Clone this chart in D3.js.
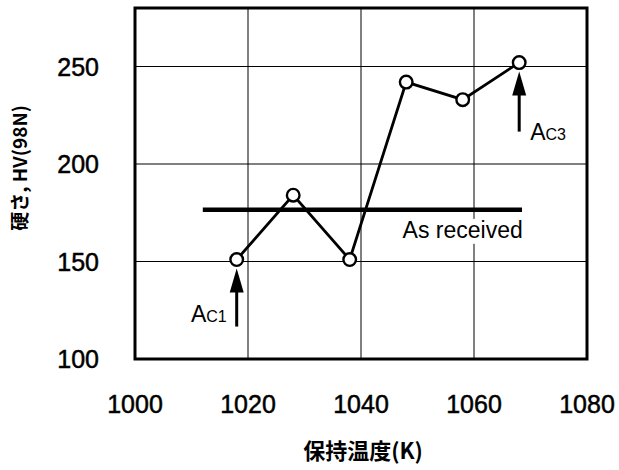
<!DOCTYPE html>
<html>
<head>
<meta charset="utf-8">
<script src="https://cdn.jsdelivr.net/npm/d3@7"></script>
<style>
  body { margin: 0; background: #fff; }
  svg { display: block; }
  text { font-family: "Liberation Sans", Arial, sans-serif; fill: #000; }
</style>
</head>
<body>
<svg id="chart" width="619" height="470"></svg>
<script>
// data
const temps = [1018, 1028, 1038, 1048, 1058, 1068];
const hardness = [151, 184, 151, 242, 233, 252];
const asReceived = { value: 176.5, from: 1012, to: 1068.5 };
const xTicks = [1000, 1020, 1040, 1060, 1080];
const yTicks = [100, 150, 200, 250];
const arrows = [
    { name: 'A', sub: 'C1', t: 1018, h: 151, len: 58, side: 'left', dy: -5 },
    { name: 'A', sub: 'C3', t: 1068, h: 252, len: 60, side: 'right', dy: 8 },
];

const svg = d3.select('#chart');
const margin = { left: 135, right: 32, top: 8, bottom: 111 };
const width = 619 - margin.left - margin.right;
const height = 470 - margin.top - margin.bottom;

const x = d3.scaleLinear().domain([1000, 1080]).range([0, width]);
const y = d3.scaleLinear().domain([100, 280]).range([height, 0]);

const g = svg.append('g').attr('transform', `translate(${margin.left},${margin.top})`);

// grid
g.selectAll('.vgrid')
    .data(xTicks.slice(1, -1))
    .enter().append('line')
    .attr('x1', d => x(d)).attr('x2', d => x(d))
    .attr('y1', 0).attr('y2', height)
    .attr('stroke', '#000').attr('stroke-width', 1);

g.selectAll('.hgrid')
    .data(yTicks.slice(1))
    .enter().append('line')
    .attr('x1', 0).attr('x2', width)
    .attr('y1', d => y(d)).attr('y2', d => y(d))
    .attr('stroke', '#000').attr('stroke-width', 1);

// as received line + label (label has white box, hiding grid under it)
g.append('line')
    .attr('x1', x(asReceived.from)).attr('x2', x(asReceived.to))
    .attr('y1', y(asReceived.value)).attr('y2', y(asReceived.value))
    .attr('stroke', '#000').attr('stroke-width', 4.5);

const lblX = x(1058), lblY = y(asReceived.value) + 28;
g.append('rect')
    .attr('x', lblX - 60).attr('y', lblY - 19)
    .attr('width', 120).attr('height', 25)
    .attr('fill', '#fff');
g.append('text')
    .attr('x', lblX).attr('y', lblY)
    .attr('text-anchor', 'middle')
    .attr('font-size', 23)
    .text('As received');

// series
const line = d3.line().x((d, i) => x(temps[i])).y(d => y(d));
g.append('path')
    .datum(hardness)
    .attr('d', line)
    .attr('fill', 'none')
    .attr('stroke', '#000')
    .attr('stroke-width', 2.8);

g.selectAll('.pt')
    .data(hardness)
    .enter().append('circle')
    .attr('cx', (d, i) => x(temps[i]))
    .attr('cy', d => y(d))
    .attr('r', 6.3)
    .attr('fill', '#fff')
    .attr('stroke', '#000')
    .attr('stroke-width', 2.4);

// arrows for Ac1 / Ac3
arrows.forEach(a => {
    const ax = x(a.t);
    const tip = y(a.h) + 9;
    const bottom = tip + a.len;
    g.append('line')
        .attr('x1', ax).attr('x2', ax)
        .attr('y1', tip + 20).attr('y2', bottom)
        .attr('stroke', '#000').attr('stroke-width', 3);
    g.append('path')
        .attr('d', `M${ax},${tip} L${ax - 7},${tip + 24} L${ax + 7},${tip + 24} Z`)
        .attr('fill', '#000');

    const t = g.append('text')
        .attr('y', bottom + a.dy)
        .attr('font-size', 23);
    if (a.side === 'left') {
        t.attr('x', ax - 10).attr('text-anchor', 'end');
    } else {
        t.attr('x', ax + 11).attr('text-anchor', 'start');
    }
    t.append('tspan').text(a.name);
    t.append('tspan').attr('font-size', 16).text(a.sub);
});

// frame
g.append('rect')
    .attr('width', width).attr('height', height)
    .attr('fill', 'none')
    .attr('stroke', '#000')
    .attr('stroke-width', 3);

// tick labels
g.selectAll('.xl')
    .data(xTicks)
    .enter().append('text')
    .attr('x', d => x(d))
    .attr('y', height + 54)
    .attr('text-anchor', 'middle')
    .attr('font-size', 25)
    .attr('stroke', '#000').attr('stroke-width', 0.5)
    .text(d => d);

g.selectAll('.yl')
    .data(yTicks)
    .enter().append('text')
    .attr('x', -36)
    .attr('y', d => y(d))
    .attr('dy', '0.36em')
    .attr('text-anchor', 'end')
    .attr('font-size', 25)
    .attr('stroke', '#000').attr('stroke-width', 0.5)
    .text(d => d);

// axis titles
svg.append('text')
    .attr('x', margin.left + width / 2 + 2)
    .attr('y', 459)
    .attr('text-anchor', 'middle')
    .attr('font-size', 22)
    .attr('font-weight', 'bold')
    .style('font-family', '"Noto Sans CJK JP", "Liberation Sans", sans-serif')
    .text('保持温度(K)');

svg.append('text')
    .attr('transform', 'translate(27,168) rotate(-90)')
    .attr('text-anchor', 'middle')
    .attr('font-size', 19)
    .attr('font-weight', 'bold')
    .style('font-family', '"Noto Sans CJK JP", "Liberation Sans", sans-serif')
    .text('硬さ, HV(98N)');
</script>
</body>
</html>
